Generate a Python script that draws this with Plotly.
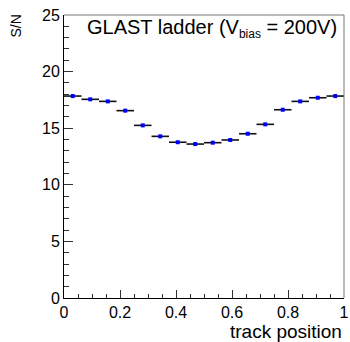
import plotly.graph_objects as go

# Data
n_bins = 16
bin_centers = [(i + 0.5) / n_bins for i in range(n_bins)]
sn_values = [17.84, 17.55, 17.37, 16.55, 15.25, 14.28, 13.76, 13.60,
             13.72, 13.96, 14.51, 15.34, 16.63, 17.37, 17.69, 17.84]
bin_half_width = 0.5 / n_bins
x_tick_vals = [0, 0.2, 0.4, 0.6, 0.8, 1.0]
x_tick_text = ["0", "0.2", "0.4", "0.6", "0.8", "1"]
y_tick_vals = [0, 5, 10, 15, 20, 25]
y_tick_text = ["0", "5", "10", "15", "20", "25"]

FONT = "Liberation Sans, Arial, sans-serif"

fig = go.Figure()
fig.add_trace(go.Scatter(
    x=bin_centers, y=sn_values, mode="markers",
    marker=dict(symbol="square", size=4, color="#0000ff", line=dict(width=0)),
    error_x=dict(type="constant", value=bin_half_width, width=0,
                 thickness=1.6, color="#111111"),
    showlegend=False,
))

fig.update_layout(
    width=350, height=342,
    margin=dict(l=64, r=1, t=15, b=44),
    paper_bgcolor="white", plot_bgcolor="white",
    font=dict(family=FONT, size=15, color="black"),
    xaxis=dict(range=[0, 1], showgrid=False, zeroline=False,
               showline=True, linecolor="black", linewidth=1,
               ticks="inside", ticklen=8, tickcolor="#333333", tickwidth=1,
               tickvals=x_tick_vals, ticktext=x_tick_text,
               ticklabeloverflow="allow",
               minor=dict(dtick=0.05, ticks="inside", ticklen=4,
                          tickcolor="#333333", tickwidth=1),
               tickfont=dict(family=FONT, size=16)),
    yaxis=dict(range=[0, 25], showgrid=False, zeroline=False,
               showline=True, linecolor="black", linewidth=1,
               ticks="inside", ticklen=9, tickcolor="#333333", tickwidth=1,
               tickvals=y_tick_vals, ticktext=y_tick_text,
               minor=dict(dtick=1, ticks="inside", ticklen=4.5,
                          tickcolor="#333333", tickwidth=1),
               tickfont=dict(family=FONT, size=16)),
)

# frame (top/right in gray)
fig.add_shape(type="line", xref="paper", yref="paper", x0=0, x1=1, y0=1, y1=1,
              line=dict(color="#777777", width=1))
fig.add_shape(type="line", xref="paper", yref="paper", x0=1, x1=1, y0=0, y1=1,
              line=dict(color="#777777", width=1))

fig.add_annotation(xref="paper", yref="paper", x=(85 - 64) / 285, y=(298 - 28) / 283,
                   xanchor="left", yanchor="middle", showarrow=False,
                   text="GLAST ladder (V<sub><span style='font-size:12px'>bias</span></sub> = 200V)",
                   font=dict(family=FONT, size=20, color="black"))
fig.add_annotation(xref="paper", yref="paper", x=(14.7 - 64) / 285, y=(298 - 26) / 283,
                   xanchor="center", yanchor="middle", showarrow=False, textangle=-90,
                   text="S/N", font=dict(family=FONT, size=14, color="black"))
fig.add_annotation(xref="paper", yref="paper", x=(231 - 64) / 285, y=(298 - 331) / 283,
                   xanchor="left", yanchor="middle", showarrow=False,
                   text="track position", font=dict(family=FONT, size=19, color="black"))

fig.write_html("out.html", config={"displayModeBar": False},
               post_script="document.body.style.margin='0';document.body.style.padding='0';document.body.style.overflow='hidden';")
